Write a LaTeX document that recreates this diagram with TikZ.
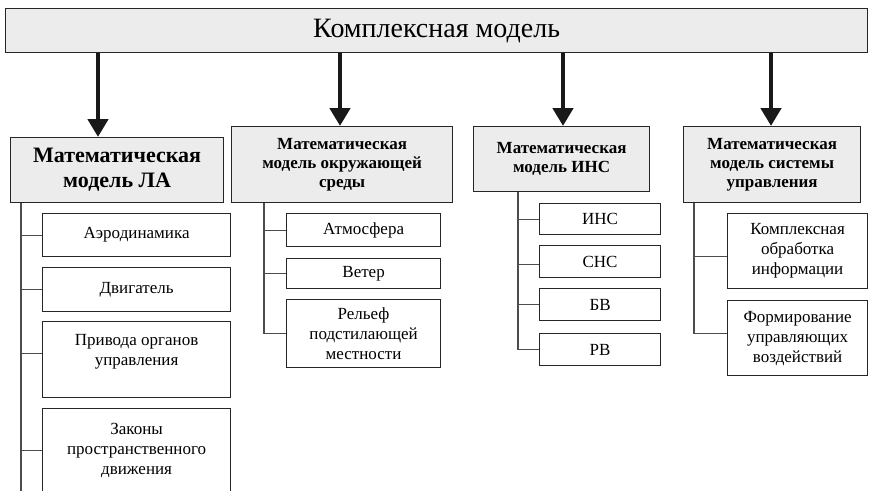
\documentclass[tikz,border=0pt]{standalone}
\usepackage{fontspec}
\setmainfont{Liberation Serif}
\usetikzlibrary{arrows.meta}
\tikzset{
  hdr/.style={draw=black!85, fill=gray!15, line width=1.2pt, inner sep=0pt, anchor=north west, align=center},
  sub/.style={draw=black!85, fill=white, line width=1.2pt, inner sep=0pt, anchor=north west, align=center,
    font=\fontsize{17}{20}\selectfont},
  hfont/.style={font=\fontsize{17}{19}\selectfont\bfseries},
  conn/.style={draw=black!70, line width=1.2pt},
  arr/.style={draw=black!90, line width=4.5pt, -{Triangle[length=18pt,width=20pt]}},
}
\begin{document}
\begin{tikzpicture}[x=1pt,y=-1pt]
\useasboundingbox (0,0) rectangle (869,490);
\clip (0,0) rectangle (869,490);
% top box
\node[hdr, minimum width=862pt, minimum height=44pt, font=\fontsize{28}{30}\selectfont] (top) at (5,8) {Комплексная модель};
% headers
\node[hdr, minimum width=213pt, minimum height=65pt, font=\fontsize{22}{25}\selectfont\bfseries] (la) at (10,137) {Математическая\\модель ЛА};
\node[hdr, hfont, minimum width=221pt, minimum height=76pt] (env) at (231,126) {Математическая\\модель окружающей\\среды};
\node[hdr, hfont, minimum width=176pt, minimum height=65pt] (ins) at (473,126) {Математическая\\модель ИНС};
\node[hdr, hfont, minimum width=177pt, minimum height=76pt] (sys) at (683,126) {Математическая\\модель системы\\управления};
% arrows
\draw[arr] (top.south -| 98,0) -- (la.north -| 98,0);
\draw[arr] (top.south -| 340,0) -- (env.north -| 340,0);
\draw[arr] (top.south -| 563,0) -- (ins.north -| 563,0);
\draw[arr] (top.south -| 771,0) -- (sys.north -| 771,0);
% column 1
\node[sub, minimum width=188pt, minimum height=43pt] (aero) at (42,213) {Аэродинамика};
\node[sub, minimum width=188pt, minimum height=44pt] (dvig) at (42,267) {Двигатель};
\node[sub, minimum width=188pt, minimum height=76pt] (priv) at (42,321) {Привода органов\\управления\\\mbox{}};
\node[sub, minimum width=188pt, minimum height=84pt] (zak) at (42,408) {Законы\\пространственного\\движения};
% column 2
\node[sub, minimum width=154pt, minimum height=33pt] (atm) at (286,213) {Атмосфера};
\node[sub, minimum width=154pt, minimum height=30pt] (wind) at (286,258) {Ветер};
\node[sub, minimum width=154pt, minimum height=68pt] (rel) at (286,299) {Рельеф\\подстилающей\\местности};
% column 3
\node[sub, minimum width=121pt, minimum height=31pt] (s1) at (539,203) {ИНС};
\node[sub, minimum width=121pt, minimum height=32pt] (s2) at (539,245) {СНС};
\node[sub, minimum width=121pt, minimum height=32pt] (s3) at (539,288) {БВ};
\node[sub, minimum width=121pt, minimum height=32pt] (s4) at (539,333) {РВ};
% column 4
\node[sub, minimum width=140pt, minimum height=75pt] (kom) at (727,213) {Комплексная\\обработка\\информации};
\node[sub, minimum width=140pt, minimum height=75pt] (form) at (727,300) {Формирование\\управляющих\\воздействий};
% connector end points
\coordinate (c1) at (21,0);
\coordinate (c1end) at (21,495);
\coordinate (c2) at (264,0);
\coordinate (c3) at (518,0);
\coordinate (c4) at (694,0);
\coordinate (privw) at ([yshift=6pt]priv.west);
\coordinate (s2w) at ([yshift=-3pt]s2.west);
\coordinate (formw) at ([yshift=5pt]form.west);
\coordinate (komw) at ([yshift=-5pt]kom.west);
% connectors
\draw[conn] (c1 |- la.south) -- (c1end);
\draw[conn] (c1 |- aero.west) -- (aero.west);
\draw[conn] (c1 |- dvig.west) -- (dvig.west);
\draw[conn] (c1 |- privw) -- (privw);
\draw[conn] (c1 |- zak.west) -- (zak.west);
\draw[conn] (c2 |- env.south) -- (c2 |- rel.west) -- (rel.west);
\draw[conn] (c2 |- atm.west) -- (atm.west);
\draw[conn] (c2 |- wind.west) -- (wind.west);
\draw[conn] (c3 |- ins.south) -- (c3 |- s4.west) -- (s4.west);
\draw[conn] (c3 |- s1.west) -- (s1.west);
\draw[conn] (c3 |- s2w) -- (s2w);
\draw[conn] (c3 |- s3.west) -- (s3.west);
\draw[conn] (c4 |- sys.south) -- (c4 |- formw) -- (formw);
\draw[conn] (c4 |- komw) -- (komw);
\end{tikzpicture}
\end{document}
